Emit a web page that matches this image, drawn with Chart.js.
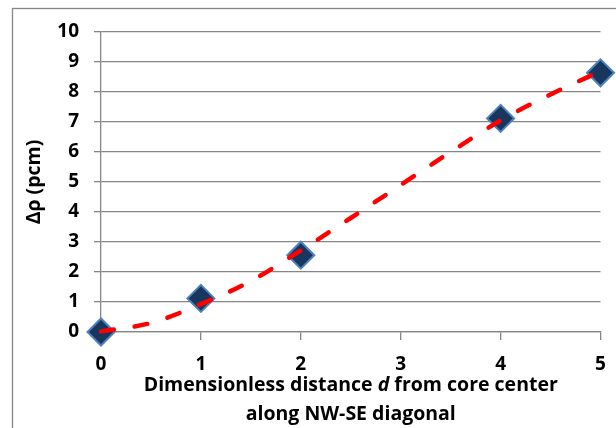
<!DOCTYPE html>
<html>
<head>
<meta charset="utf-8">
<script src="https://cdn.jsdelivr.net/npm/chart.js@4.4.1/dist/chart.umd.min.js"></script>
<style>
  html, body { margin: 0; padding: 0; background: #fff; }
  #wrap { width: 616px; height: 428px; position: relative; }
</style>
</head>
<body>
<div id="wrap"><canvas id="myChart"></canvas></div>
<script>
// measured points
const distances = [0, 1, 2, 4, 5];
const deltaRho = [0, 1.12, 2.56, 7.12, 8.64];

// dashed trend line
const trendX = [0, 0.5, 1, 1.5, 2, 2.5, 3, 3.5, 4, 4.5, 5];
const trendY = [0.02, 0.3, 0.93, 1.7, 2.72, 3.8, 4.9, 6.0, 7.05, 7.92, 8.69];

const xTicks = [0, 1, 2, 3, 4, 5];
const yTicks = [0, 1, 2, 3, 4, 5, 6, 7, 8, 9, 10];

const axisGray = '#868686';
const labelFont = '"Open Sans", "Noto Sans", sans-serif';

// outer frame + two-line x title with italic "d"
const extras = {
    id: 'extras',
    beforeDraw(chart) {
        const ctx = chart.ctx;
        ctx.save();
        ctx.strokeStyle = axisGray;
        ctx.lineWidth = 1.3;
        ctx.strokeRect(12.5, 8.5, 800, 600);
        ctx.restore();
    },
    afterDraw(chart) {
        const ctx = chart.ctx;
        const area = chart.chartArea;
        const cx = (area.left + area.right) / 2;
        const bold = 'bold 19.5px ' + labelFont;
        const boldIt = 'italic bold 19.5px ' + labelFont;
        ctx.save();
        ctx.fillStyle = '#000';
        ctx.textBaseline = 'middle';
        ctx.textAlign = 'left';
        const parts = [['Dimensionless distance ', bold], ['d', boldIt], [' from core center', bold]];
        let total = 0;
        parts.forEach(p => { ctx.font = p[1]; total += ctx.measureText(p[0]).width; });
        let x = cx - total / 2;
        parts.forEach(p => {
            ctx.font = p[1];
            ctx.fillText(p[0], x, 385);
            x += ctx.measureText(p[0]).width;
        });
        ctx.font = bold;
        ctx.textAlign = 'center';
        ctx.fillText('along NW-SE diagonal', cx, 414);
        ctx.restore();
    }
};

new Chart(document.getElementById('myChart').getContext('2d'), {
    type: 'scatter',
    data: {
        datasets: [
            {
                label: 'trend',
                data: trendX.map((x, i) => ({ x: x, y: trendY[i] })),
                showLine: true,
                pointRadius: 0,
                borderColor: '#ff0000',
                borderWidth: 4.5,
                borderDash: [13, 21],
                borderCapStyle: 'round',
                cubicInterpolationMode: 'monotone',
                clip: false,
                order: 0,
            },
            {
                label: 'data',
                data: distances.map((x, i) => ({ x: x, y: deltaRho[i] })),
                pointStyle: 'rectRot',
                pointRadius: 13.5,
                pointBackgroundColor: '#17375e',
                pointBorderColor: '#4f81bd',
                pointBorderWidth: 2,
                showLine: false,
                clip: false,
                order: 1,
            },
        ],
    },
    options: {
        responsive: true,
        maintainAspectRatio: false,
        animation: false,
        layout: { padding: { top: 32, right: 12, left: 0, bottom: 0 } },
        plugins: {
            legend: { display: false },
            tooltip: { enabled: false },
        },
        scales: {
            x: {
                type: 'linear',
                min: 0,
                max: 5,
                afterBuildTicks: (s) => { s.ticks = xTicks.map(v => ({ value: v })); },
                afterFit: (s) => { s.height = 96; s.paddingLeft = 0; s.paddingRight = 6; },
                grid: {
                    drawOnChartArea: false,
                    drawTicks: true,
                    tickLength: 8,
                    color: axisGray,
                    lineWidth: 1.3,
                },
                border: { color: axisGray, width: 1.3 },
                ticks: {
                    color: '#000',
                    padding: 13,
                    font: { family: labelFont, size: 19, weight: 'bold' },
                },
            },
            y: {
                type: 'linear',
                min: 0,
                max: 10,
                afterBuildTicks: (s) => { s.ticks = yTicks.map(v => ({ value: v })); },
                afterFit: (s) => { s.width = 101; s.paddingTop = 0; s.paddingBottom = 0; },
                grid: {
                    drawTicks: true,
                    tickLength: 7,
                    color: axisGray,
                    lineWidth: 1.3,
                },
                border: { color: axisGray, width: 1.3 },
                ticks: {
                    color: '#000',
                    padding: 15,
                    font: { family: labelFont, size: 19, weight: 'bold' },
                },
                title: {
                    display: true,
                    text: 'Δρ (pcm)',
                    color: '#000',
                    padding: { top: 23, bottom: 0 },
                    font: { family: labelFont, size: 19.5, weight: 'bold' },
                },
            },
        },
    },
    plugins: [extras],
});
</script>
</body>
</html>
